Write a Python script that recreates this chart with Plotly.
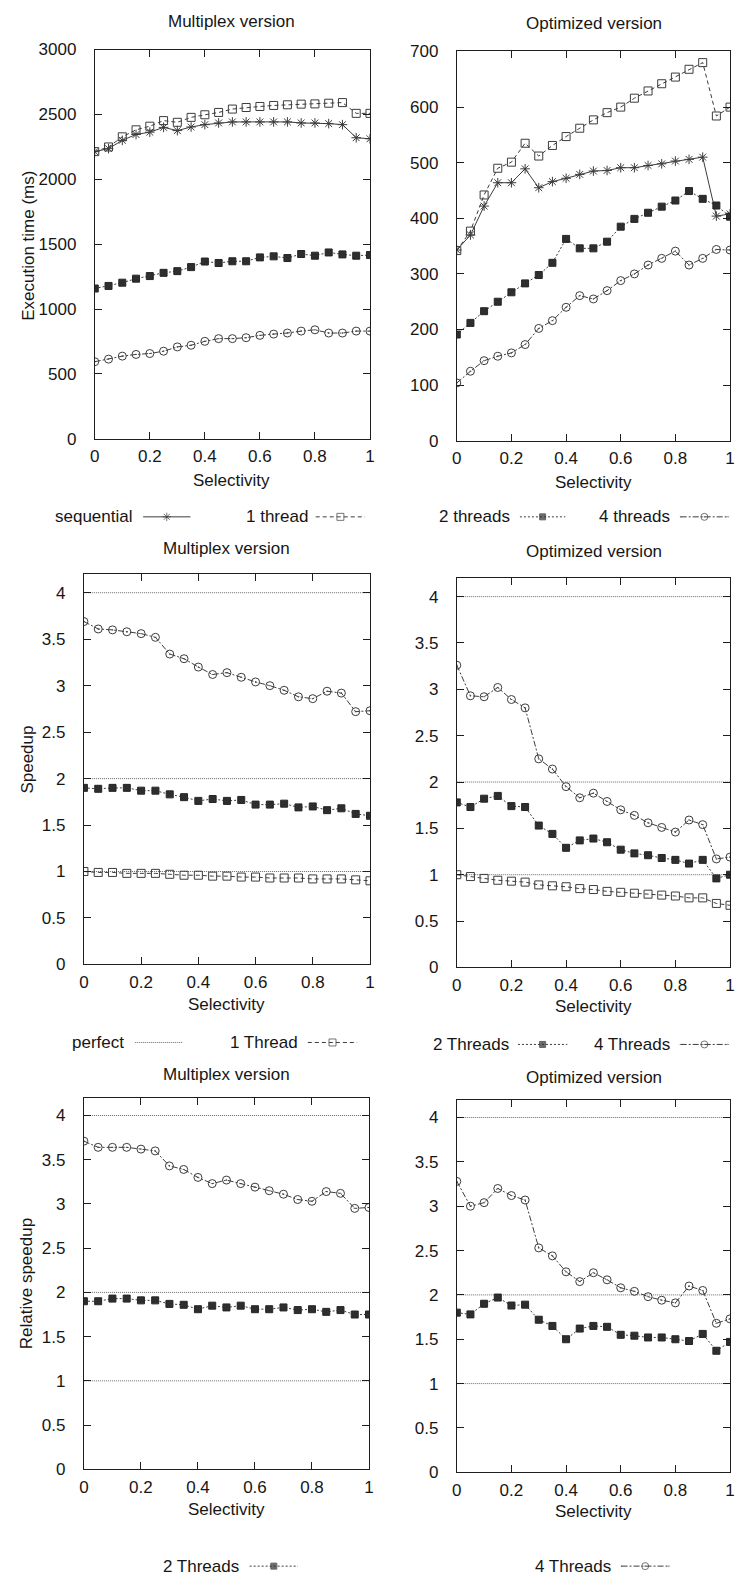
import plotly.graph_objects as go

W, H = 737, 1587

# ---------------- data ----------------
selectivity = [0.0, 0.05, 0.1, 0.15, 0.2, 0.25, 0.3, 0.35, 0.4, 0.45, 0.5,
               0.55, 0.6, 0.65, 0.7, 0.75, 0.8, 0.85, 0.9, 0.95, 1.0]

# Execution time (ms) - Multiplex version
mux_seq = [2213, 2236, 2300, 2345, 2363, 2400, 2375, 2403, 2421, 2434, 2442,
           2442, 2442, 2442, 2442, 2434, 2434, 2429, 2421, 2320, 2312]
mux_t1 = [2213, 2249, 2327, 2381, 2409, 2452, 2439, 2477, 2497, 2515, 2541,
          2553, 2561, 2569, 2574, 2579, 2581, 2586, 2591, 2508, 2508]
mux_t2 = [1158, 1178, 1203, 1234, 1254, 1279, 1292, 1323, 1366, 1355, 1368,
          1368, 1398, 1406, 1393, 1424, 1411, 1436, 1421, 1411, 1416]
mux_t4 = [594, 614, 637, 650, 657, 675, 708, 721, 751, 772, 772,
          779, 797, 807, 815, 830, 840, 815, 815, 830, 830]

# Execution time (ms) - Optimized version
opt_seq = [343, 370, 422, 464, 464, 489, 455, 466, 472, 479, 485,
           486, 491, 491, 495, 498, 503, 506, 510, 404, 408]
opt_t1 = [342, 377, 442, 490, 501, 535, 512, 531, 547, 562, 577,
          590, 600, 616, 629, 642, 654, 668, 680, 584, 600]
opt_t2 = [191, 212, 233, 250, 267, 283, 298, 320, 363, 346, 346,
          358, 385, 399, 410, 421, 432, 449, 435, 423, 403]
opt_t4 = [104, 125, 144, 152, 158, 173, 202, 216, 240, 261, 255,
          270, 288, 300, 316, 328, 341, 316, 328, 344, 343]

# Speedup - Multiplex version
mux_sp1 = [1.00, 0.99, 0.99, 0.98, 0.98, 0.98, 0.97, 0.96, 0.96, 0.95, 0.95,
           0.94, 0.94, 0.93, 0.93, 0.93, 0.92, 0.92, 0.92, 0.91, 0.90]
mux_sp2 = [1.90, 1.89, 1.90, 1.90, 1.87, 1.87, 1.83, 1.80, 1.76, 1.78, 1.76,
           1.77, 1.72, 1.72, 1.73, 1.69, 1.70, 1.66, 1.68, 1.62, 1.60]
mux_sp4 = [3.69, 3.61, 3.60, 3.58, 3.56, 3.52, 3.34, 3.29, 3.20, 3.12, 3.14,
           3.09, 3.04, 3.00, 2.95, 2.88, 2.86, 2.94, 2.92, 2.72, 2.73]

# Speedup - Optimized version
opt_sp1 = [1.00, 0.98, 0.96, 0.94, 0.93, 0.92, 0.89, 0.88, 0.87, 0.85, 0.84,
           0.82, 0.81, 0.80, 0.79, 0.78, 0.77, 0.75, 0.75, 0.69, 0.67]
opt_sp2 = [1.78, 1.73, 1.82, 1.85, 1.74, 1.73, 1.53, 1.44, 1.29, 1.37, 1.39,
           1.35, 1.27, 1.23, 1.21, 1.18, 1.16, 1.12, 1.16, 0.96, 1.00]
opt_sp4 = [3.26, 2.93, 2.92, 3.02, 2.89, 2.80, 2.25, 2.14, 1.95, 1.83, 1.88,
           1.79, 1.70, 1.64, 1.56, 1.51, 1.46, 1.59, 1.54, 1.17, 1.19]

# Relative speedup - Multiplex version
mux_rel2 = [1.90, 1.90, 1.93, 1.93, 1.91, 1.91, 1.87, 1.86, 1.81, 1.85, 1.83,
            1.85, 1.81, 1.81, 1.83, 1.80, 1.81, 1.78, 1.80, 1.75, 1.75]
mux_rel4 = [3.71, 3.64, 3.64, 3.64, 3.62, 3.60, 3.43, 3.39, 3.30, 3.23, 3.27,
            3.23, 3.19, 3.15, 3.11, 3.05, 3.03, 3.14, 3.12, 2.95, 2.96]

# Relative speedup - Optimized version
opt_rel2 = [1.80, 1.78, 1.90, 1.97, 1.88, 1.89, 1.72, 1.65, 1.50, 1.62, 1.65,
            1.64, 1.55, 1.54, 1.52, 1.52, 1.50, 1.48, 1.56, 1.37, 1.47]
opt_rel4 = [3.28, 3.00, 3.04, 3.20, 3.12, 3.07, 2.53, 2.44, 2.26, 2.15, 2.25,
            2.17, 2.08, 2.04, 1.98, 1.94, 1.91, 2.10, 2.05, 1.68, 1.73]

perfect_levels = [1, 2, 4]

x_ticks = [0, 0.2, 0.4, 0.6, 0.8, 1]
x_tick_text = ["0", "0.2", "0.4", "0.6", "0.8", "1"]
time_mux_ticks = [0, 500, 1000, 1500, 2000, 2500, 3000]
time_opt_ticks = [0, 100, 200, 300, 400, 500, 600, 700]
speed_ticks = [0, 0.5, 1, 1.5, 2, 2.5, 3, 3.5, 4]
speed_tick_text = ["0", "0.5", "1", "1.5", "2", "2.5", "3", "3.5", "4"]

# ---------------- styles ----------------
FONT = "Liberation Sans, Arial, Helvetica, sans-serif"
FS = 17
TXT = "#161616"
LINE = "#3c3c3c"
STY = {
    "seq": dict(dash="solid", symbol="asterisk-open", size=8, fill=LINE),
    "t1": dict(dash="4px,3px", symbol="square-open", size=8, fill=LINE),
    "t2": dict(dash="2px,2px", symbol="square", size=7, fill="#2e2e2e"),
    "t4": dict(dash="6px,2px,2px,2px", symbol="circle-open-dot", size=8, fill=LINE),
}

fig = go.Figure()


def px_x(v):
    return v / W


def px_y(v):
    return 1 - v / H


# panel geometry in pixels: (left, right, top, bottom)
panels = {
    1: (91, 370, 41, 435),
    2: (458, 735, 43, 437),
    3: (80, 370, 572, 967),
    4: (458, 735, 576, 970),
    5: (80, 369, 1102, 1478),
    6: (458, 735, 1104, 1481),
}


def axis_names(i):
    return ("x" if i == 1 else f"x{i}", "y" if i == 1 else f"y{i}")


def add_series(i, ys, key):
    xa, ya = axis_names(i)
    s = STY[key]
    fig.add_trace(go.Scatter(
        x=selectivity, y=ys, xaxis=xa, yaxis=ya, mode="lines+markers",
        line=dict(color=LINE, width=1, dash=s["dash"]),
        marker=dict(symbol=s["symbol"], size=s["size"], color=s["fill"],
                    line=dict(color="#262626", width=1)),
        showlegend=False, hoverinfo="skip"))


def add_perfect(i):
    xa, ya = axis_names(i)
    for lv in perfect_levels:
        fig.add_trace(go.Scatter(
            x=[selectivity[0], selectivity[-1]], y=[lv, lv], xaxis=xa, yaxis=ya,
            mode="lines", line=dict(color="#6a6a6a", width=1, dash="1px,1px"),
            showlegend=False, hoverinfo="skip"))


# top row: execution time
add_series(1, mux_seq, "seq")
add_series(1, mux_t1, "t1")
add_series(1, mux_t2, "t2")
add_series(1, mux_t4, "t4")
add_series(2, opt_seq, "seq")
add_series(2, opt_t1, "t1")
add_series(2, opt_t2, "t2")
add_series(2, opt_t4, "t4")
# middle row: speedup
add_perfect(3)
add_series(3, mux_sp1, "t1")
add_series(3, mux_sp2, "t2")
add_series(3, mux_sp4, "t4")
add_perfect(4)
add_series(4, opt_sp1, "t1")
add_series(4, opt_sp2, "t2")
add_series(4, opt_sp4, "t4")
# bottom row: relative speedup
add_perfect(5)
add_series(5, mux_rel2, "t2")
add_series(5, mux_rel4, "t4")
add_perfect(6)
add_series(6, opt_rel2, "t2")
add_series(6, opt_rel4, "t4")

yranges = {1: [0, 3000], 2: [0, 700], 3: [0, 4.2], 4: [0, 4.2], 5: [0, 4.2], 6: [0, 4.2]}
yticks = {1: (time_mux_ticks, [str(t) for t in time_mux_ticks]),
          2: (time_opt_ticks, [str(t) for t in time_opt_ticks]),
          3: (speed_ticks, speed_tick_text), 4: (speed_ticks, speed_tick_text),
          5: (speed_ticks, speed_tick_text), 6: (speed_ticks, speed_tick_text)}

layout = {}
for i, (l, r, t, b) in panels.items():
    xk = "xaxis" if i == 1 else f"xaxis{i}"
    yk = "yaxis" if i == 1 else f"yaxis{i}"
    xa, ya = axis_names(i)
    common = dict(showline=True, linecolor="#1e1e1e", linewidth=1, mirror="allticks",
                  ticks="inside", ticklen=7, tickwidth=1, tickcolor="#1e1e1e",
                  showgrid=False, zeroline=False,
                  tickfont=dict(family=FONT, size=FS, color=TXT))
    layout[xk] = dict(domain=[px_x(l), px_x(r)], range=[0, 1], anchor=ya,
                      tickvals=x_ticks, ticktext=x_tick_text,
                      ticklabelstandoff=2, **common)
    layout[yk] = dict(domain=[px_y(b), px_y(t)], range=yranges[i], anchor=xa,
                      tickvals=yticks[i][0], ticktext=yticks[i][1],
                      ticklabelstandoff=14, **common)

# overlay axis in pixel coordinates for the legend samples
layout["xaxis7"] = dict(domain=[0, 1], range=[0, W], visible=False, anchor="y7", fixedrange=True)
layout["yaxis7"] = dict(domain=[0, 1], range=[H, 0], visible=False, anchor="x7", fixedrange=True)

annotations = []


def text(x, y, s, xanchor="center", angle=0):
    annotations.append(dict(x=px_x(x), y=px_y(y), xref="paper", yref="paper", text=s,
                            showarrow=False, xanchor=xanchor, yanchor="middle",
                            textangle=angle, borderpad=0,
                            font=dict(family=FONT, size=FS, color=TXT)))


# titles
text(230, 13, "Multiplex version")
text(597, 15, "Optimized version")
text(225, 546, "Multiplex version")
text(597, 549, "Optimized version")
text(225, 1078, "Multiplex version")
text(597, 1081, "Optimized version")
# x labels
text(230, 477, "Selectivity")
text(597, 479, "Selectivity")
text(225, 1008, "Selectivity")
text(597, 1010, "Selectivity")
text(225, 1519, "Selectivity")
text(597, 1521, "Selectivity")
# y labels
text(23, 240, "Execution time (ms)", angle=-90)
text(23, 760, "Speedup", angle=-90)
text(22, 1290, "Relative speedup", angle=-90)

# legends: (text, text_end_x, sample_x0, sample_x1, y, style)
legend_items = [
    ("sequential", 131, 140, 188, 514, "seq"),
    ("1 thread", 308, 315, 365, 514, "t1"),
    ("2 threads", 513, 522, 568, 514, "t2"),
    ("4 threads", 675, 685, 733, 514, "t4"),
    ("perfect", 122, 132, 180, 1046, "perfect"),
    ("1 Thread", 298, 307, 357, 1046, "t1"),
    ("2 Threads", 512, 520, 570, 1048, "t2"),
    ("4 Threads", 675, 685, 733, 1048, "t4"),
    ("2 Threads", 238, 248, 297, 1576, "t2"),
    ("4 Threads", 615, 625, 673, 1576, "t4"),
]
for label, tx, x0, x1, y, key in legend_items:
    text(tx, y, label, xanchor="right")
    if key == "perfect":
        fig.add_trace(go.Scatter(x=[x0, x1], y=[y, y], xaxis="x7", yaxis="y7", mode="lines",
                                 line=dict(color="#6a6a6a", width=1, dash="1px,1px"),
                                 showlegend=False, hoverinfo="skip"))
    else:
        s = STY[key]
        fig.add_trace(go.Scatter(x=[x0, (x0 + x1) / 2, x1], y=[y, y, y], xaxis="x7", yaxis="y7",
                                 mode="lines+markers",
                                 line=dict(color=LINE, width=1, dash=s["dash"]),
                                 marker=dict(symbol=s["symbol"], size=[0, s["size"] - 1, 0],
                                             color=s["fill"], line=dict(color="#262626", width=1)),
                                 showlegend=False, hoverinfo="skip"))

fig.update_layout(
    width=W, height=H, autosize=False,
    margin=dict(l=0, r=0, t=0, b=0, pad=0),
    paper_bgcolor="white", plot_bgcolor="rgba(0,0,0,0)",
    showlegend=False, annotations=annotations,
    font=dict(family=FONT, size=FS, color=TXT),
    **layout,
)

fig.write_html("out.html")
